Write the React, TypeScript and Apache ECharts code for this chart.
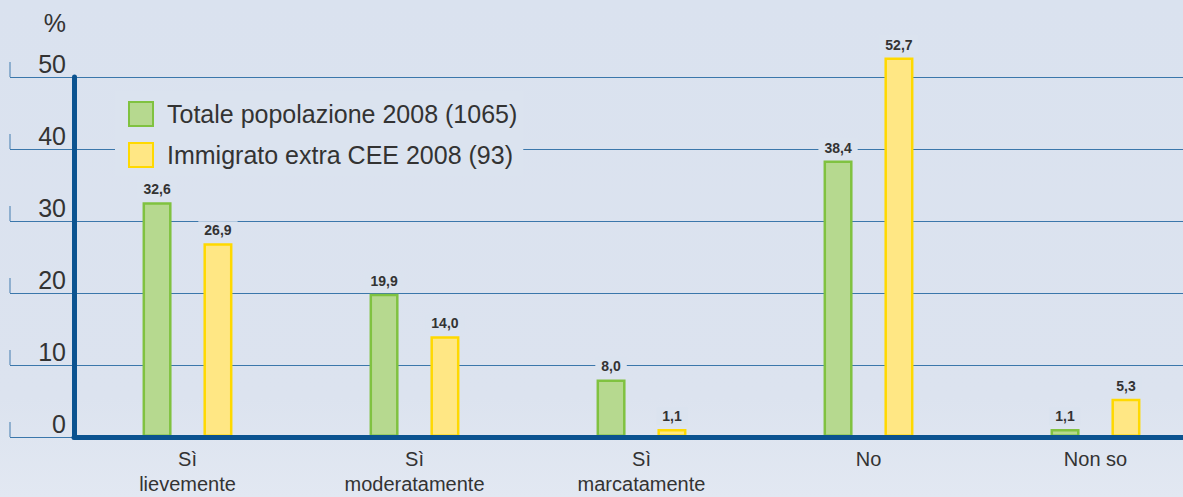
import React, { useEffect, useRef } from "react";
import * as echarts from "echarts";

const categories = ["Sì\nlievemente", "Sì\nmoderatamente", "Sì\nmarcatamente", "No", "Non so"];
const seriesNames = ["Totale popolazione 2008 (1065)", "Immigrato extra CEE 2008 (93)"];
const totale = [32.6, 19.9, 8.0, 38.4, 1.1];
const immigrato = [26.9, 14.0, 1.1, 52.7, 5.3];
const yTicks = [0, 10, 20, 30, 40, 50];

const BG = "#dbe3ef";
const GRID_LINE = "#3b77ab";
const AXIS = "#0b5390";
const TEXT = "#333333";
const FONT = "'Liberation Sans', Arial, Helvetica, sans-serif";

const fmt = (v: number) => v.toFixed(1).replace(".", ",");

export default function App() {
  const ref = useRef<HTMLDivElement>(null);
  useEffect(() => {
    if (!ref.current) return;
    const chart = echarts.init(ref.current, null, { renderer: "svg" });
    const labelCfg = {
      show: true,
      position: "top" as const,
      distance: 4,
      formatter: (p: any) => fmt(p.value),
      fontFamily: FONT,
      fontSize: 14,
      fontWeight: "bold" as const,
      color: TEXT,
      backgroundColor: BG,
      padding: [2, 6, 2, 6],
    };
    chart.setOption({
      animation: false,
      backgroundColor: new echarts.graphic.LinearGradient(0, 0, 0, 1, [
        { offset: 0, color: "#dae2ef" },
        { offset: 0.8, color: "#dce3ef" },
        { offset: 1, color: "#e2e8f2" },
      ]),
      textStyle: { fontFamily: FONT },
      grid: [
        { left: 10, right: 0, top: 77, bottom: 60, outerBoundsMode: "none", containLabel: false },
        { left: 74, width: 1135, top: 77, bottom: 60, outerBoundsMode: "none", containLabel: false },
      ],
      xAxis: [
        { gridIndex: 0, type: "value", min: 0, max: 1, show: false },
        {
          gridIndex: 1,
          type: "category",
          data: categories,
          axisLine: { show: true, lineStyle: { color: AXIS, width: 5 } },
          axisTick: { show: false },
          axisLabel: {
            margin: 9,
            fontFamily: FONT,
            fontSize: 20,
            lineHeight: 25,
            color: TEXT,
          },
          z: 5,
        },
      ],
      yAxis: [
        {
          gridIndex: 0,
          type: "value",
          min: 0,
          max: 50,
          interval: 10,
          axisLine: { show: false },
          axisTick: { show: false },
          splitLine: { show: true, lineStyle: { color: GRID_LINE, width: 1 } },
          axisLabel: {
            inside: true,
            align: "right",
            verticalAlign: "bottom",
            margin: 56,
            fontFamily: FONT,
            fontSize: 25,
            lineHeight: 25,
            color: TEXT,
            padding: [0, 0, 1, 0],
          },
        },
        {
          gridIndex: 1,
          type: "value",
          min: 0,
          max: 50,
          interval: 10,
          axisLine: { show: true, lineStyle: { color: AXIS, width: 5 } },
          axisTick: { show: false },
          axisLabel: { show: false },
          splitLine: { show: false },
          z: 5,
        },
      ],
      legend: {
        orient: "vertical",
        left: 115,
        top: 91,
        padding: [10, 6, 8, 13],
        backgroundColor: BG,
        itemWidth: 24,
        itemHeight: 24,
        itemGap: 15,
        icon: "rect",
        data: seriesNames,
        textStyle: {
          fontFamily: FONT,
          fontSize: 25,
          color: TEXT,
          padding: [0, 0, 0, 9],
        },
      },
      graphic: [
        {
          type: "text",
          right: 1183 - 66,
          top: 10,
          style: { text: "%", font: `25px ${FONT}`, fill: TEXT },
        },
      ],
      series: [
        {
          type: "scatter",
          xAxisIndex: 0,
          yAxisIndex: 0,
          data: yTicks.map((v) => [0, v]),
          symbol: "rect",
          symbolSize: [1.2, 15],
          symbolOffset: [0, -7.5],
          itemStyle: { color: GRID_LINE },
          silent: true,
          z: 1,
        },
        {
          name: seriesNames[0],
          type: "bar",
          xAxisIndex: 1,
          yAxisIndex: 1,
          data: totale,
          barWidth: 29,
          barGap: "110%",
          clip: false,
          itemStyle: { color: "#b6d98f", borderColor: "#80c240", borderWidth: 2.5 },
          label: labelCfg,
          z: 3,
        },
        {
          name: seriesNames[1],
          type: "bar",
          xAxisIndex: 1,
          yAxisIndex: 1,
          data: immigrato,
          barWidth: 29,
          barGap: "110%",
          clip: false,
          itemStyle: { color: "#ffe784", borderColor: "#ffd900", borderWidth: 2.5 },
          label: labelCfg,
          z: 3,
        },
      ],
    });
    return () => chart.dispose();
  }, []);
  return (
    <div
      ref={ref}
      style={{ position: "fixed", left: 0, top: 0, width: 1183, height: 497 }}
    />
  );
}
